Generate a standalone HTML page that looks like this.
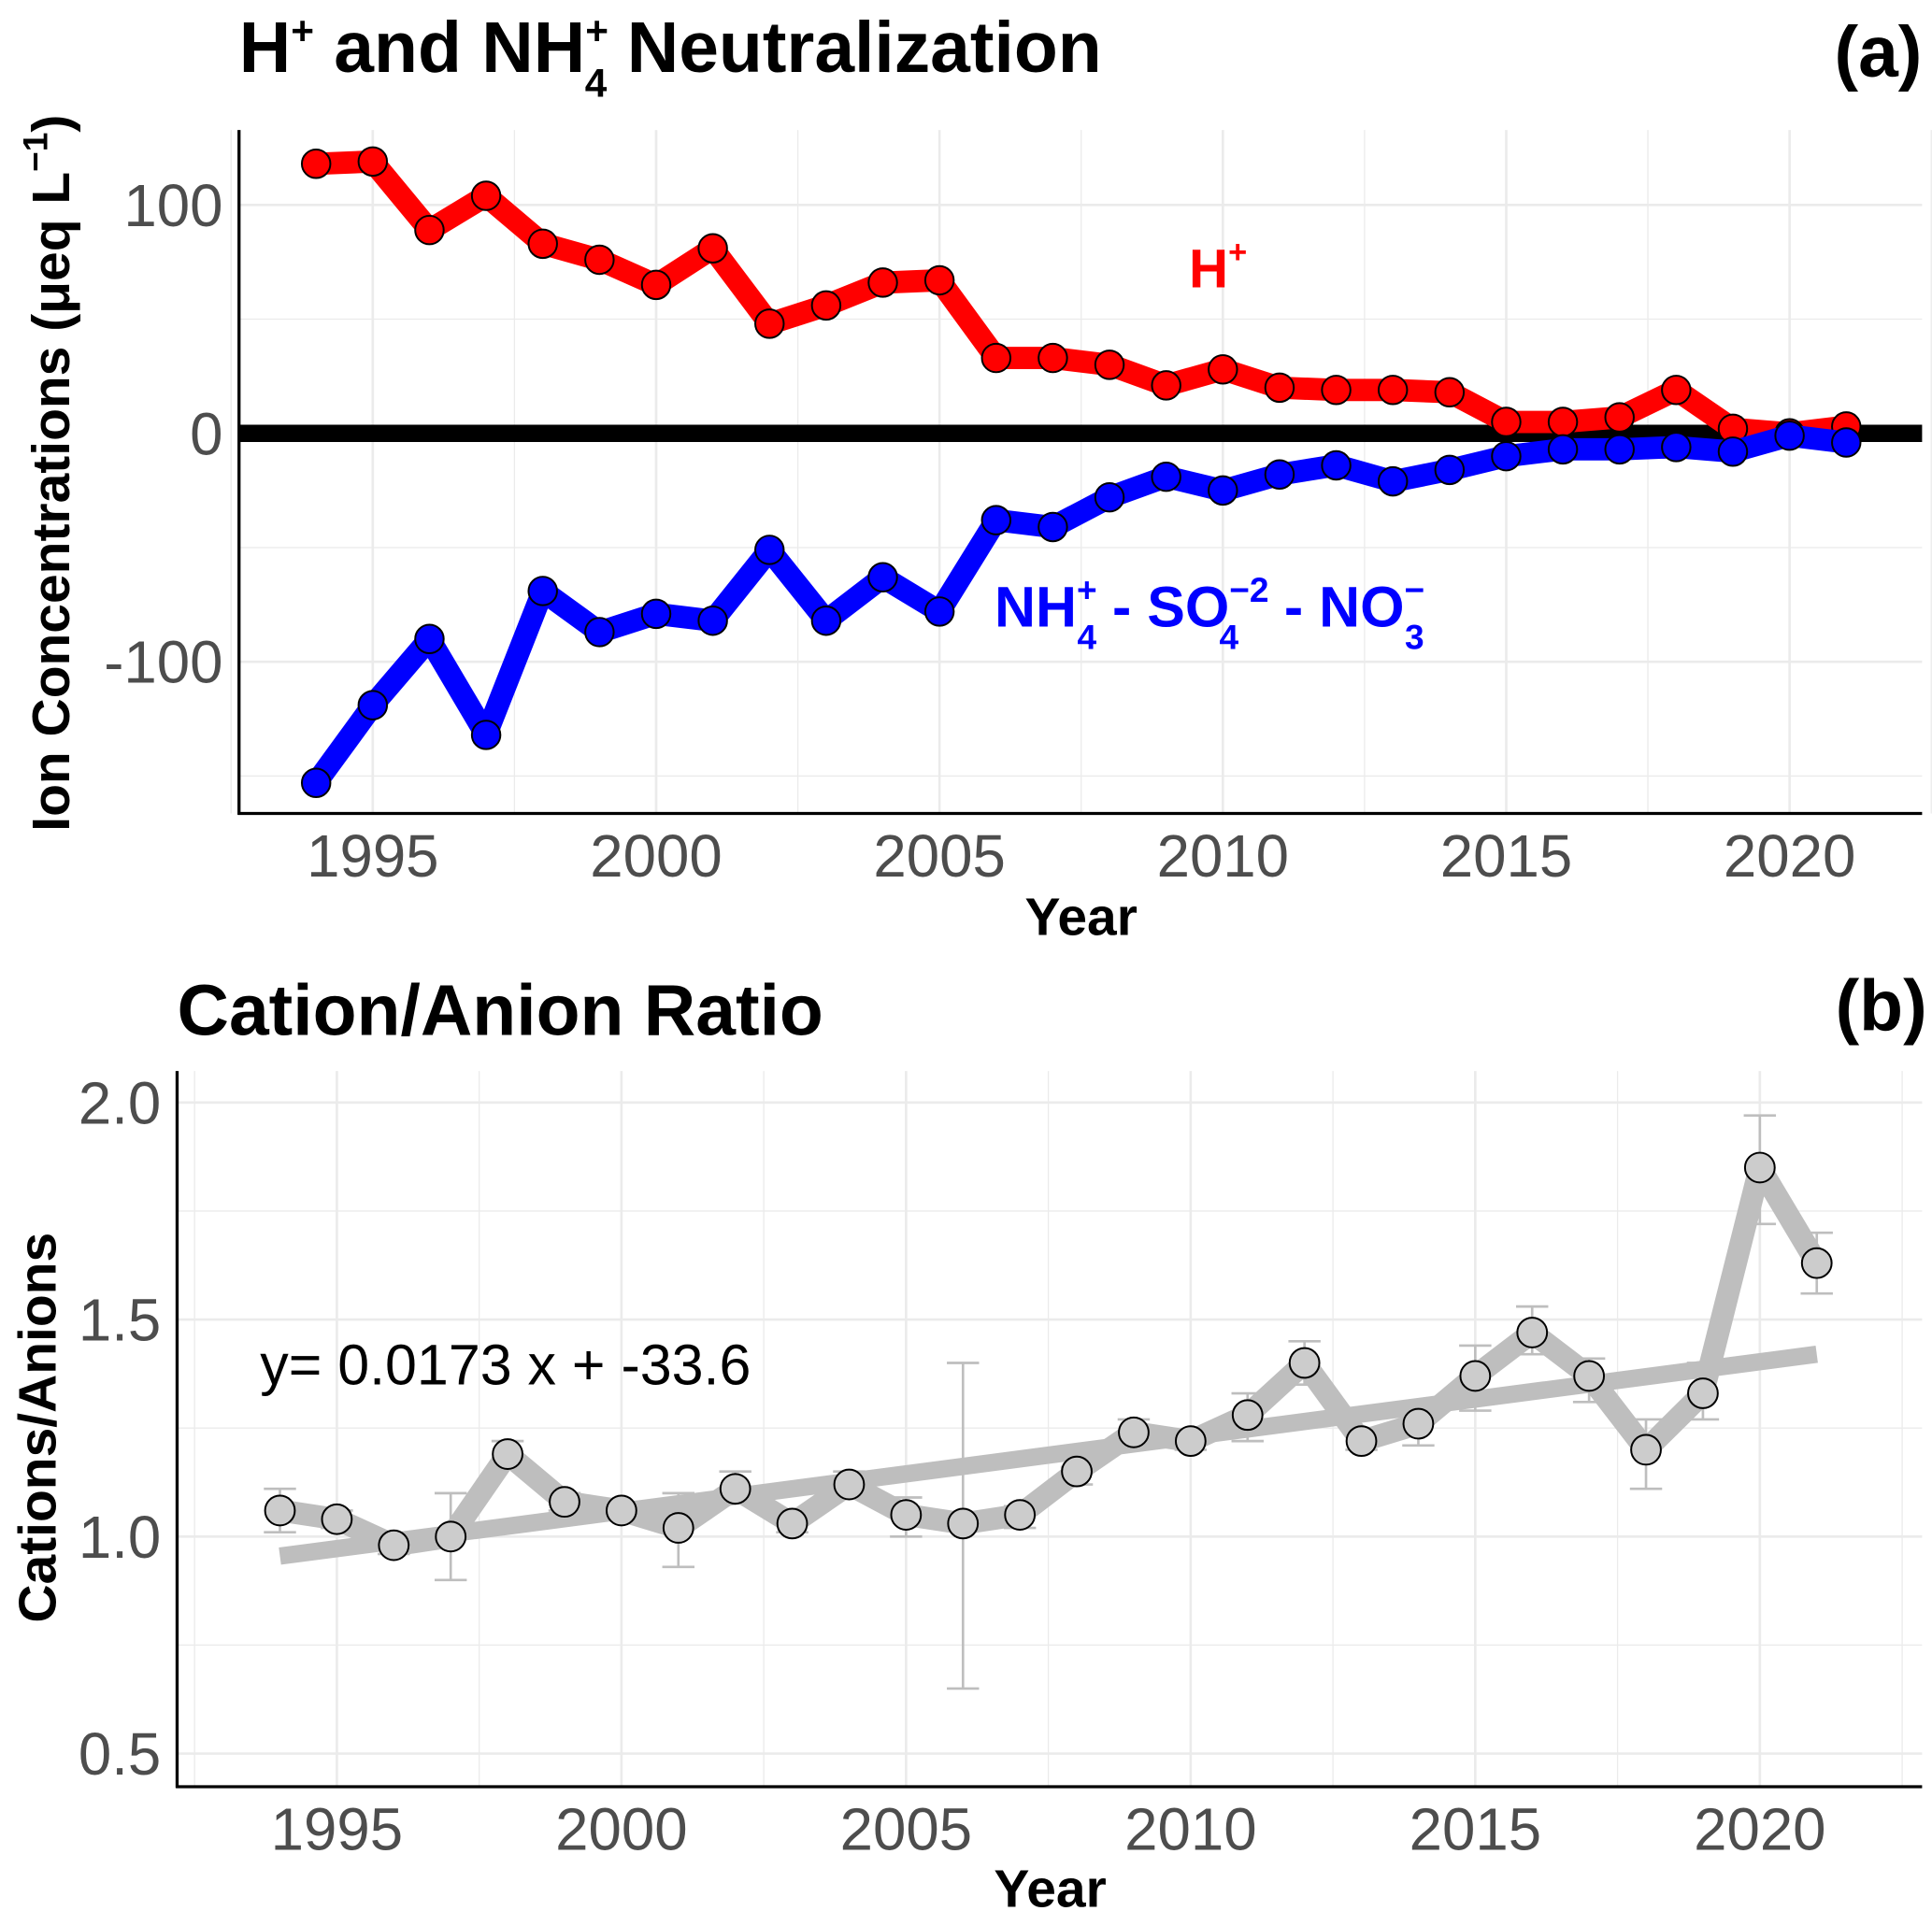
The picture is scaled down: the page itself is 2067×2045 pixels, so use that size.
<!DOCTYPE html>
<html><head><meta charset="utf-8"><style>
html,body{margin:0;padding:0;background:#fff}
svg{display:block;font-family:"Liberation Sans",Arial,sans-serif}
</style></head><body>
<svg id="fig" width="2067" height="2045" viewBox="0 0 1560 1543.4" xmlns="http://www.w3.org/2000/svg">
<g id="pa"></g>
<g id="pb"></g>
</svg>
<script>
const years=[1994,1995,1996,1997,1998,1999,2000,2001,2002,2003,2004,2005,2006,2007,2008,2009,2010,2011,2012,2013,2014,2015,2016,2017,2018,2019,2020,2021];
const hPlus=[118,119,89,104,83,76,65,81,48,56,66,67,33,33,30,21,28,20,19,19,18,5,5,7,19,2,0,3];
const nhBalance=[-153,-119,-90,-132,-69,-87,-79,-82,-51,-82,-63,-78,-38,-41,-28,-19,-25,-18,-14,-21,-16,-10,-7,-7,-6,-8,-1,-4];
const ratio=[1.06,1.04,0.98,1.00,1.19,1.08,1.06,1.02,1.11,1.03,1.12,1.05,1.03,1.05,1.15,1.24,1.22,1.28,1.40,1.22,1.26,1.37,1.47,1.37,1.20,1.33,1.85,1.63];
const ratioHi=[1.11,1.06,1.00,1.10,1.22,1.10,1.08,1.10,1.15,1.05,1.15,1.09,1.40,1.07,1.16,1.27,1.24,1.33,1.45,1.25,1.30,1.44,1.53,1.41,1.27,1.40,1.97,1.70];
const ratioLo=[1.01,1.02,0.96,0.90,1.17,1.06,1.04,0.93,1.08,1.01,1.10,1.00,0.65,1.02,1.12,1.22,1.20,1.22,1.35,1.20,1.21,1.29,1.42,1.31,1.11,1.27,1.72,1.56];
const xTicks=[1995,2000,2005,2010,2015,2020];
const yTicksA=[100,0,-100];
const yTicksB=[0.5,1.0,1.5,2.0];
const trendStart=[1994,0.955];
const trendEnd=[2021,1.42];

const NS='http://www.w3.org/2000/svg';
function mk(p,tag,a,txt){const e=document.createElementNS(NS,tag);for(const k in a)e.setAttribute(k,a[k]);if(txt!==undefined)e.textContent=txt;p.appendChild(e);return e;}

// Panel A
const pa=document.getElementById('pa');
const ax={l:193,r:1552,t:105,b:657};
const xA=y=>301+(y-1995)*45.76;
const yA=v=>350-v*1.845;
for(let y=1992.5;y<=2022.5;y+=2.5){const l=mk(pa,'line',{x1:xA(y),x2:xA(y),y1:ax.t,y2:ax.b,stroke:'#ebebeb','stroke-width':y%5===0?2:1});

}
for(let v=-150;v<=100;v+=50){const l=mk(pa,'line',{x1:ax.l,x2:ax.r,y1:yA(v),y2:yA(v),stroke:'#ebebeb','stroke-width':v%100===0?2:1});

}
mk(pa,'line',{x1:ax.l,x2:ax.r,y1:yA(0),y2:yA(0),stroke:'#000','stroke-width':14,});
function series(p,vals,color,name){
  const pts=years.map((y,i)=>xA(y)+','+yA(vals[i])).join(' ');
  const pl=mk(p,'polyline',{points:pts,fill:'none',stroke:color,'stroke-width':18,'stroke-linejoin':'round'});
  
  
  years.forEach((y,i)=>{const c=mk(p,'circle',{cx:xA(y),cy:yA(vals[i]),r:11.5,fill:color,stroke:'#000','stroke-width':1.5});
  
  });
}
series(pa,hPlus,'#ff0000','h-plus');
series(pa,nhBalance,'#0000ff','nh4-balance');
mk(pa,'line',{x1:ax.l,x2:ax.l,y1:ax.t,y2:ax.b+1,stroke:'#000','stroke-width':2.5,});
mk(pa,'line',{x1:ax.l-1,x2:ax.r,y1:ax.b,y2:ax.b,stroke:'#000','stroke-width':2.5,});
xTicks.forEach(t=>{const e=mk(pa,'text',{x:xA(t),y:708,'text-anchor':'middle','font-size':48,fill:'#4d4d4d'},t);

});
yTicksA.forEach(t=>{const e=mk(pa,'text',{x:180,y:yA(t)+17,'text-anchor':'end','font-size':48,fill:'#4d4d4d'},t);

});
pa.insertAdjacentHTML('beforeend',`
<text x="193" y="58" font-size="58" font-weight="bold">H<tspan dy="-22" font-size="32">+</tspan><tspan dy="22"> and NH</tspan><tspan dy="-22" font-size="32">+</tspan><tspan dx="-19" dy="42" font-size="32">4</tspan><tspan dy="-20"> Neutralization</tspan></text>
<text x="1552" y="62" text-anchor="end" font-size="58" font-weight="bold">(a)</text>
<text x="873" y="755" text-anchor="middle" font-size="43" font-weight="bold">Year</text>
<text transform="translate(56,382) rotate(-90)" text-anchor="middle" font-size="43" font-weight="bold">Ion Concentrations (μeq L<tspan dy="-18" font-size="28">−1</tspan><tspan dy="18">)</tspan></text>
<text x="960" y="232" font-size="44" font-weight="bold" fill="#ff0000">H<tspan dy="-20" font-size="26">+</tspan></text>
<text x="803" y="506" font-size="46" font-weight="bold" fill="#0000ff">NH<tspan dy="-20" font-size="28">+</tspan><tspan dx="-16" dy="38" font-size="28">4</tspan><tspan dy="-18"> - SO</tspan><tspan dy="-20" font-size="28">−2</tspan><tspan dx="-40" dy="38" font-size="28">4</tspan><tspan dx="24" dy="-18"> - NO</tspan><tspan dy="-20" font-size="28">−</tspan><tspan dx="-16" dy="38" font-size="28">3</tspan></text>`);

// Panel B
const pb=document.getElementById('pb');
const bx={l:143,r:1552,t:865,b:1443};
const xB=y=>272+(y-1995)*45.96;
const yB=v=>1241-(v-1)*350.6;
for(let y=1992.5;y<=2022.5;y+=2.5){const l=mk(pb,'line',{x1:xB(y),x2:xB(y),y1:bx.t,y2:bx.b,stroke:'#ebebeb','stroke-width':y%5===0?2:1});

}
for(let v=0.5;v<=2.01;v+=0.25){const l=mk(pb,'line',{x1:bx.l,x2:bx.r,y1:yB(v),y2:yB(v),stroke:'#ebebeb','stroke-width':Math.abs(v*2-Math.round(v*2))<0.01?2:1});

}
years.forEach((y,i)=>{const g=mk(pb,'g',{stroke:'#bebebe','stroke-width':2});


const x=xB(y);
mk(g,'line',{x1:x,x2:x,y1:yB(ratioHi[i]),y2:yB(ratioLo[i])});
mk(g,'line',{x1:x-13,x2:x+13,y1:yB(ratioHi[i]),y2:yB(ratioHi[i])});
mk(g,'line',{x1:x-13,x2:x+13,y1:yB(ratioLo[i]),y2:yB(ratioLo[i])});});
const rl=mk(pb,'polyline',{points:years.map((y,i)=>xB(y)+','+yB(ratio[i])).join(' '),fill:'none',stroke:'#bebebe','stroke-width':18,'stroke-linejoin':'round'});


const tl=mk(pb,'line',{x1:xB(trendStart[0]),y1:yB(trendStart[1]),x2:xB(trendEnd[0]),y2:yB(trendEnd[1]),stroke:'#bebebe','stroke-width':14});


years.forEach((y,i)=>{const c=mk(pb,'circle',{cx:xB(y),cy:yB(ratio[i]),r:12,fill:'#cccccc',stroke:'#000','stroke-width':1.5});

});
mk(pb,'line',{x1:bx.l,x2:bx.l,y1:bx.t,y2:bx.b+1,stroke:'#000','stroke-width':2.5,});
mk(pb,'line',{x1:bx.l-1,x2:bx.r,y1:bx.b,y2:bx.b,stroke:'#000','stroke-width':2.5,});
xTicks.forEach(t=>{const e=mk(pb,'text',{x:xB(t),y:1494,'text-anchor':'middle','font-size':48,fill:'#4d4d4d'},t);

});
yTicksB.forEach(t=>{const e=mk(pb,'text',{x:130,y:yB(t)+17,'text-anchor':'end','font-size':48,fill:'#4d4d4d'},t.toFixed(1));

});
pb.insertAdjacentHTML('beforeend',`
<text x="143" y="836" font-size="58" font-weight="bold">Cation/Anion Ratio</text>
<text x="1556" y="832" text-anchor="end" font-size="58" font-weight="bold">(b)</text>
<text x="848" y="1540" text-anchor="middle" font-size="43" font-weight="bold">Year</text>
<text transform="translate(45,1153) rotate(-90)" text-anchor="middle" font-size="43" font-weight="bold">Cations/Anions</text>
<text x="210" y="1118" font-size="46" fill="#000">y= 0.0173 x + -33.6</text>`);
</script>
</body></html>
